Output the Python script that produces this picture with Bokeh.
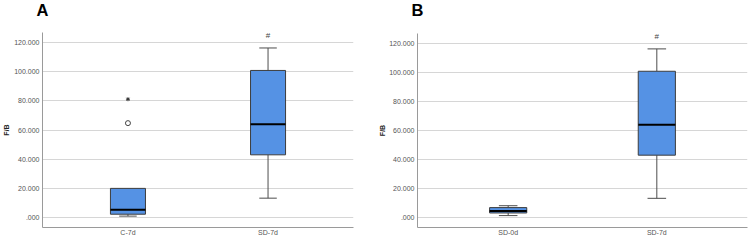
from bokeh.plotting import figure
from bokeh.layouts import row, column
from bokeh.models import FactorRange, Range1d, FixedTicker, ColumnDataSource, Title
from bokeh.transform import dodge
from bokeh.core.properties import value
from bokeh.embed import file_html
from bokeh.resources import INLINE

# ---- data ----
groups_A = ["C-7d", "SD-7d"]
low_A = [1.0, 13.3]
q1_A = [2.3, 43.0]
med_A = [5.3, 64.0]
q3_A = [20.0, 100.8]
high_A = [20.0, 116.2]
outlier_circle_A = [("C-7d", 64.7)]
outlier_star_A = [("C-7d", 81.1)]

groups_B = ["SD-0d", "SD-7d"]
low_B = [1.4, 13.3]
q1_B = [3.2, 43.0]
med_B = [4.5, 64.0]
q3_B = [6.9, 100.8]
high_B = [8.2, 116.2]

sig_group = "SD-7d"
sig_value = 124.6

y_ticks = [0, 20, 40, 60, 80, 100, 120]
y_tick_labels = [".000", "20.000", "40.000", "60.000", "80.000", "100.000", "120.000"]
y_title = "F/B"
panel_letters = ["A", "B"]

FONT = "Liberation Sans"
BOX_FILL = "#5592E4"
BOX_LINE = "#3c3c3c"
WHISK = "#4d4d4d"
BOX_W = 0.25
CAP_W = 0.125
W = 376
H = 240


def make_header(letter, head_h, mb_left, mb_right):
    # a small strip above each chart that carries the panel letter as its title
    h = figure(width=W, height=head_h, output_backend="svg", toolbar_location=None,
               x_range=Range1d(0, 1), y_range=Range1d(0, 1),
               x_axis_type=None, y_axis_type=None,
               min_border_left=mb_left, min_border_right=mb_right,
               min_border_top=0, min_border_bottom=0)
    h.outline_line_color = None
    h.xgrid.grid_line_color = None
    h.ygrid.grid_line_color = None
    h.title = Title(text=letter, text_font=FONT, text_font_size="16.5px",
                    text_font_style="bold", text_color="black", align="left",
                    vertical_align="top", offset=-6, standoff=0)
    return h


def make_panel(groups, low, q1, med, q3, high, head_h, mb_left, mb_right,
               label_standoff, circles=(), stars=()):
    p = figure(width=W, height=H - head_h, output_backend="svg", toolbar_location=None,
               x_range=FactorRange(*groups, range_padding=0.11, range_padding_units="absolute"),
               y_range=Range1d(-6.8, 126.8),
               min_border_left=mb_left, min_border_right=mb_right,
               min_border_top=0, min_border_bottom=13)
    p.outline_line_color = None
    p.background_fill_color = "white"
    p.border_fill_color = "white"
    p.xgrid.grid_line_color = None
    p.ygrid.grid_line_color = "#d6d6d6"
    p.ygrid.grid_line_width = 1
    p.yaxis.ticker = FixedTicker(ticks=y_ticks)
    p.yaxis.major_label_overrides = {t: l for t, l in zip(y_ticks, y_tick_labels)}
    for ax in (p.xaxis[0], p.yaxis[0]):
        ax.axis_line_color = "#9a9a9a"
        ax.major_tick_line_color = None
        ax.minor_tick_line_color = None
        ax.major_tick_out = 0
        ax.major_tick_in = 0
        ax.major_label_text_font = FONT
        ax.major_label_text_font_size = "7px"
        ax.major_label_text_color = "#555555"
        ax.major_label_standoff = 3
    p.xaxis.major_label_standoff = 1
    p.yaxis.axis_label = y_title
    p.yaxis.axis_label_text_font = FONT
    p.yaxis.axis_label_text_font_size = "7px"
    p.yaxis.axis_label_text_font_style = "bold"
    p.yaxis.axis_label_text_color = "#222222"
    p.yaxis.axis_label_standoff = label_standoff

    src = ColumnDataSource(dict(g=groups, low=low, q1=q1, med=med, q3=q3, high=high))
    # whiskers
    p.segment(x0="g", y0="q3", x1="g", y1="high", source=src, line_color=WHISK, line_width=1)
    p.segment(x0="g", y0="low", x1="g", y1="q1", source=src, line_color=WHISK, line_width=1)
    # caps
    cap_g = [g for g, v, q in zip(groups, high, q3) if v > q] + \
            [g for g, v, q in zip(groups, low, q1) if v < q]
    cap_v = [v for g, v, q in zip(groups, high, q3) if v > q] + \
            [v for g, v, q in zip(groups, low, q1) if v < q]
    csrc = ColumnDataSource(dict(g=cap_g, v=cap_v))
    p.segment(x0=dodge("g", -CAP_W / 2, range=p.x_range), y0="v",
              x1=dodge("g", CAP_W / 2, range=p.x_range), y1="v",
              source=csrc, line_color=WHISK, line_width=1)
    # boxes and medians
    p.vbar(x="g", bottom="q1", top="q3", width=BOX_W, source=src,
           fill_color=BOX_FILL, line_color=BOX_LINE, line_width=1)
    p.segment(x0=dodge("g", -BOX_W / 2, range=p.x_range), y0="med",
              x1=dodge("g", BOX_W / 2, range=p.x_range), y1="med",
              source=src, line_color="black", line_width=2)
    if circles:
        p.scatter(x=[c[0] for c in circles], y=[c[1] for c in circles], marker="circle",
                  size=5, fill_color="white", line_color="#444444", line_width=1)
    if stars:
        p.scatter(x=[c[0] for c in stars], y=[c[1] for c in stars], marker="asterisk",
                  size=4, line_color="#333333", line_width=1)
    p.text(x=[sig_group], y=[sig_value], text=["#"], text_font=value(FONT),
           text_font_size="8px", text_color="#444444", text_align="center",
           text_baseline="middle")
    return p


hA = make_header(panel_letters[0], 32, 42, 23)
pA = make_panel(groups_A, low_A, q1_A, med_A, q3_A, high_A, 32, 42, 23, 1,
                circles=outlier_circle_A, stars=outlier_star_A)
hB = make_header(panel_letters[1], 33, 39, 5)
pB = make_panel(groups_B, low_B, q1_B, med_B, q3_B, high_B, 33, 39, 5, 0)

layout = row(column(hA, pA), column(hB, pB))
open("out.html", "w").write(file_html(layout, INLINE))
